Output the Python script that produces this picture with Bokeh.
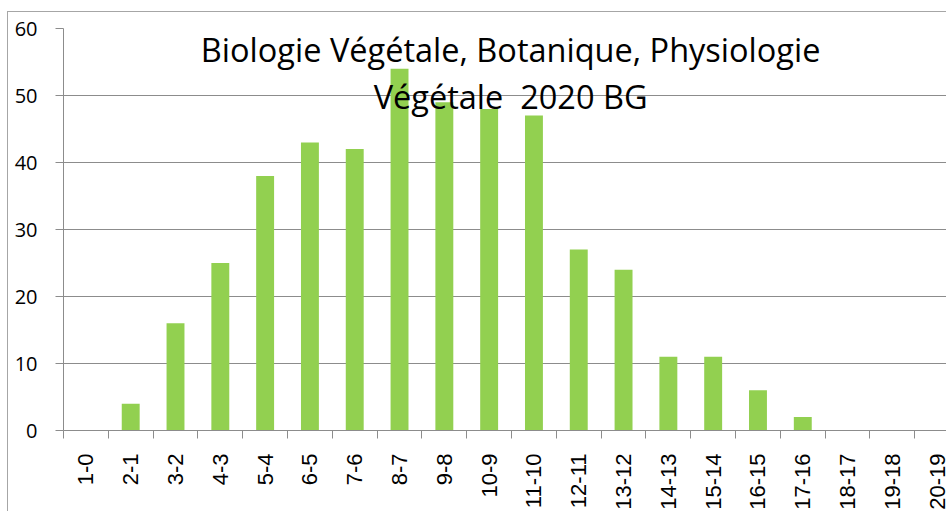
import math
from bokeh.plotting import figure
from bokeh.models import Range1d, FixedTicker, Label
from bokeh.embed import file_html
from bokeh.resources import INLINE

categories = ["1-0", "2-1", "3-2", "4-3", "5-4", "6-5", "7-6", "8-7", "9-8", "10-9",
              "11-10", "12-11", "13-12", "14-13", "15-14", "16-15", "17-16", "18-17",
              "19-18", "20-19"]
counts = [0, 4, 16, 25, 38, 43, 42, 54, 49, 48, 47, 27, 24, 11, 11, 6, 2, 0, 0, 0]
y_ticks = [0, 10, 20, 30, 40, 50, 60]
title_lines = ["Biologie Végétale, Botanique, Physiologie", "Végétale \u00a02020 BG"]

centers = [i + 0.5 for i in range(len(categories))]
bounds = [float(i) for i in range(len(categories) + 1)]

GRID = "#8c8c8c"

p = figure(width=939, height=500, output_backend="svg", toolbar_location=None,
           x_range=Range1d(0, 19.73), y_range=Range1d(0, 60),
           min_border_left=55, min_border_top=16, min_border_bottom=77, min_border_right=0,
           outline_line_color=None)
p.styles = {"margin-left": "7px", "margin-top": "11px",
            "border-left": "1px solid #a6a6a6", "border-top": "1px solid #a6a6a6"}

p.vbar(x=centers, top=counts, width=0.4, bottom=0, fill_color="#92D050", line_color=None)

# x axis
xa = p.xaxis[0]
xa.ticker = FixedTicker(ticks=centers, minor_ticks=bounds)
xa.major_label_overrides = {c: lab for c, lab in zip(centers, categories)}
xa.major_label_orientation = math.pi / 2
xa.major_tick_out = 0
xa.major_tick_in = 0
xa.minor_tick_out = 8
xa.minor_tick_in = 0
xa.minor_tick_line_color = GRID
xa.axis_line_color = GRID
xa.major_label_standoff = 15
xa.major_label_text_font = "Liberation Sans"
xa.major_label_text_font_size = "22px"
xa.major_label_text_color = "black"

# y axis
ya = p.yaxis[0]
ya.ticker = FixedTicker(ticks=y_ticks)
ya.major_tick_out = 8
ya.major_tick_in = 0
ya.minor_tick_line_color = None
ya.major_tick_line_color = GRID
ya.axis_line_color = GRID
ya.major_label_standoff = 18
ya.major_label_text_font = "Open Sans"
ya.major_label_text_font_size = "20px"
ya.major_label_text_color = "black"

p.xgrid.grid_line_color = None
p.ygrid.grid_line_color = GRID
p.ygrid.grid_line_width = 1

for line, yb in zip(title_lines, [56.9, 49.8]):
    p.add_layout(Label(x=9.98, y=yb, text=line, text_align="center",
                       text_baseline="alphabetic", text_font="Open Sans",
                       text_font_size="32.5px", text_color="black"))

open("out.html", "w").write(file_html(p, INLINE))
